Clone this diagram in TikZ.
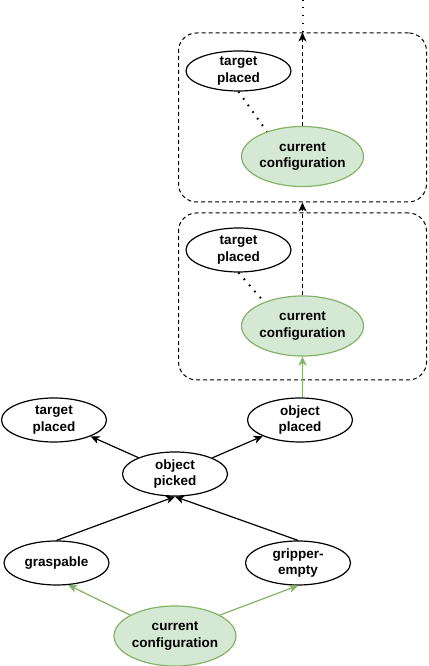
\documentclass[tikz,border=0pt]{standalone}
\usepackage{fontspec}
\setsansfont{Liberation Sans}
\usepackage{tikz}
\usetikzlibrary{arrows.meta}
\usetikzlibrary{shapes.geometric}

\definecolor{cfgfill}{HTML}{D5E8D4}
\definecolor{cfgline}{HTML}{82B366}

\begin{document}
\begin{tikzpicture}[x=1pt, y=1pt, >={Stealth[length=9pt,width=8pt,inset=2.5pt]}, node distance=73pt]
      \tikzstyle{state} = [ellipse, draw=black, line width=1.2pt, fill=white, inner sep=0pt,
         minimum width=105pt, minimum height=44pt, align=center,
         font=\sffamily\bfseries\fontsize{13.5}{16.5}\selectfont]
      \tikzstyle{current} = [state, draw=cfgline, fill=cfgfill, minimum width=118pt, minimum height=60pt]
      \tikzstyle{group} = [draw=black, line width=1pt, dash pattern=on 4pt off 3pt, rounded corners=18pt,
         minimum width=248pt, minimum height=167pt, inner sep=0pt]
      \tikzstyle{edge} = [->, draw=black, line width=1.2pt]
      \tikzstyle{green edge} = [edge, draw=cfgline, fill=cfgline]
      \tikzstyle{dash edge} = [->, draw=black, line width=1pt, dash pattern=on 4pt off 3pt]
      \tikzstyle{dot line} = [draw=black, line width=2pt, dash pattern=on 1.6pt off 6.5pt]
      \useasboundingbox (0,0) rectangle (428,666);
      %nodes
      \node[current] (cfg)   at (175,30)                                   {current\\configuration};
      \node[state]   (grasp) [above of=cfg, xshift=-118.5pt]               {graspable};
      \node[state]   (grip)  [above of=cfg, xshift=123pt]                  {gripper-\\empty};
      \node[state]   (pick)  [above of=cfg, yshift=89pt]                   {object\\picked};
      \node[state]   (tp0)   [above of=pick, xshift=-121pt, yshift=-19pt]  {target\\placed};
      \node[state]   (op)    [above of=pick, xshift=125pt, yshift=-19pt]   {object\\placed};
      \node[current] (cc1)   [above of=op, xshift=2.5pt, yshift=21pt]      {current\\configuration};
      \node[state]   (tp1)   [above of=cc1, xshift=-64pt, yshift=3pt]      {target\\placed};
      \node[group]   (g1)    [above of=cc1, yshift=-43.5pt]                {};
      \node[current] (cc2)   [above of=cc1, yshift=96.5pt]                 {current\\configuration};
      \node[state, minimum height=40pt] (tp2) [above of=cc2, xshift=-64pt, yshift=12.5pt] {target\\placed};
      \node[group, minimum height=169pt] (g2) [above of=cc2, yshift=-34pt] {};
      \coordinate (out) at (302.5,666);

      %lines
      \draw[green edge] (cfg.155) -- (grasp.298);
      \draw[green edge] (cfg.25) -- (grip.south);
      \draw[edge] (grasp.north) -- (pick.south);
      \draw[edge] (grip.north) -- (pick.south);
      \draw[edge] (pick) -- (tp0);
      \draw[edge] (pick) -- (op);
      \draw[green edge] (cc1.south |- op.north) -- (cc1.south);
      \draw[dot line] (tp1.south) -- (cc1.148);
      \draw[dash edge] (cc1) -- (g2.south);
      \draw[dot line] (tp2.south) -- (cc2.145);
      \draw[dash edge] (cc2) -- (g2.north);
      \draw[dot line] (g2.north) -- (out);
\end{tikzpicture}
\end{document}
